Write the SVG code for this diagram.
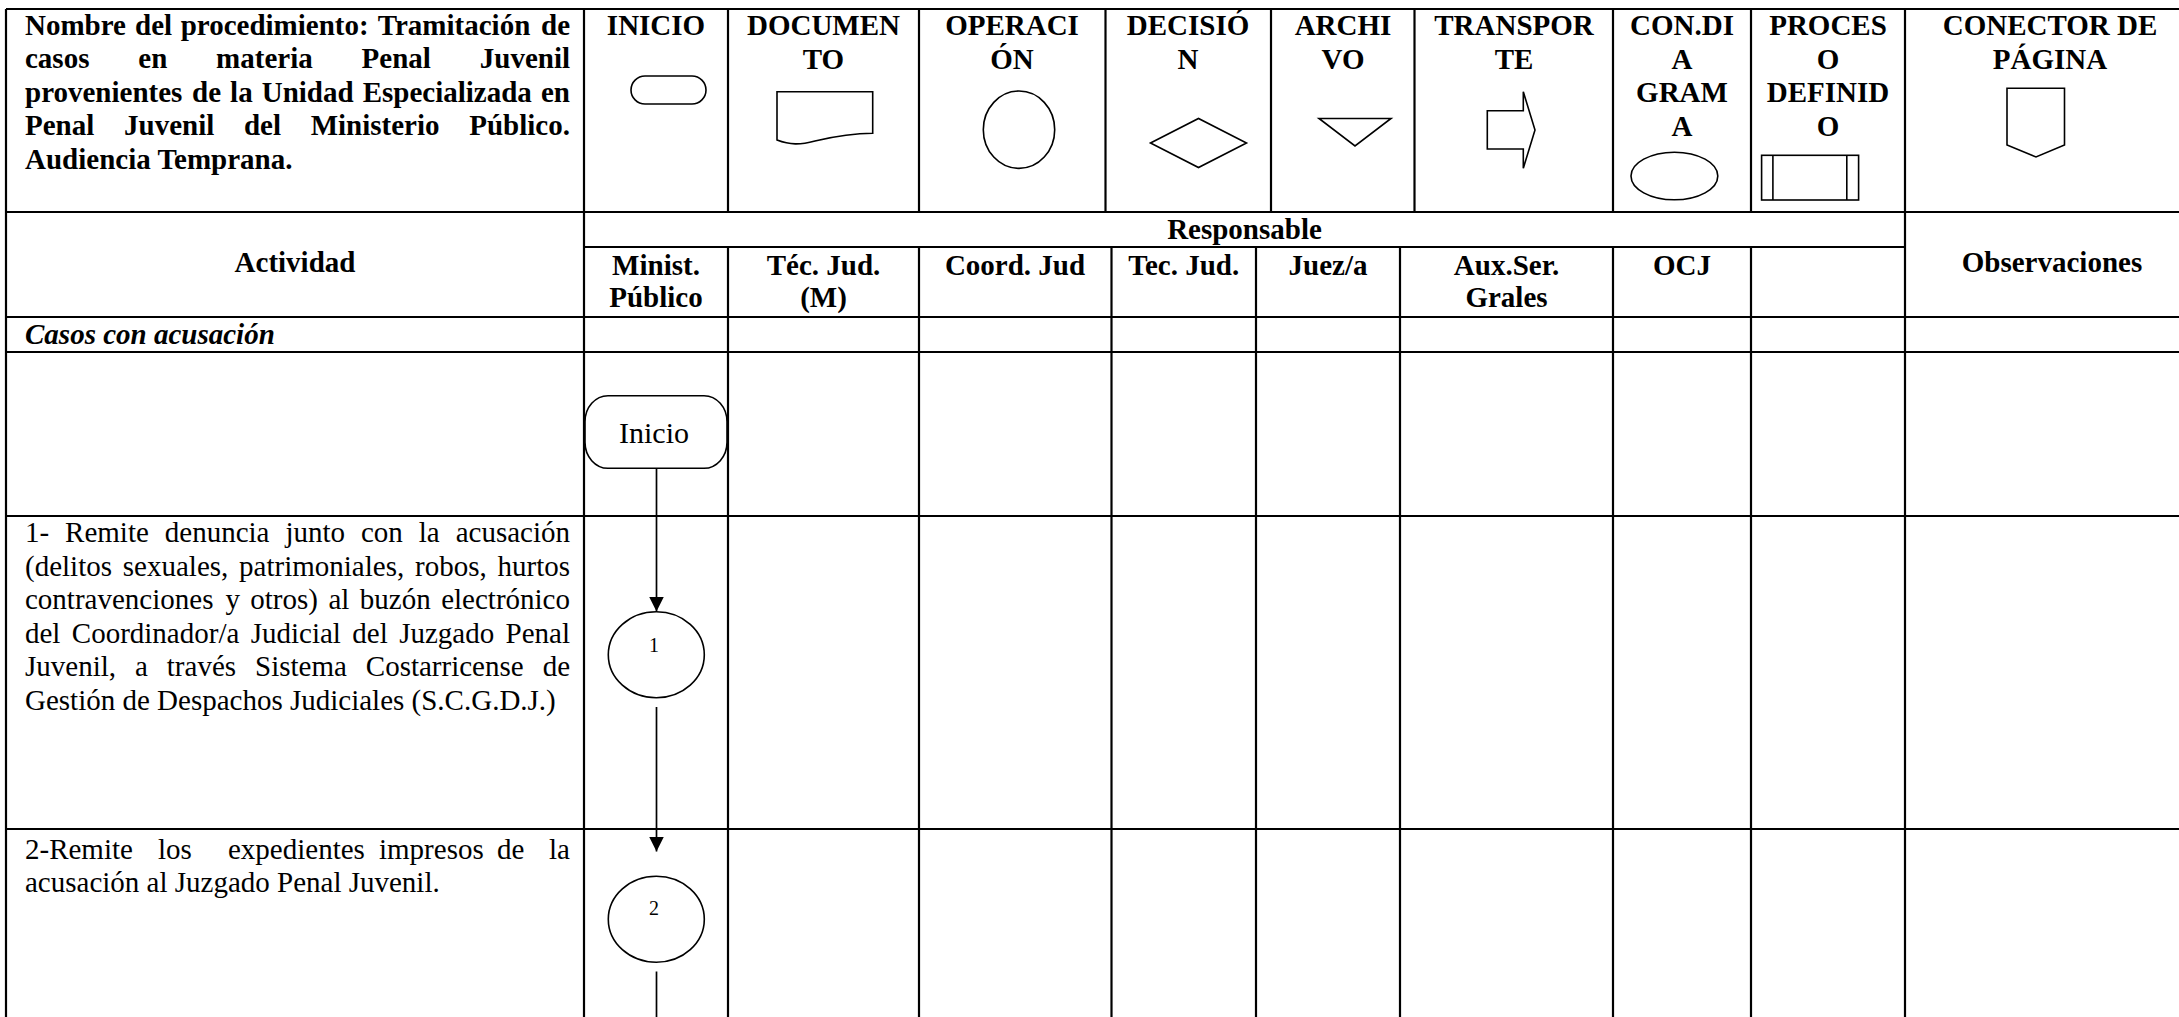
<svg xmlns="http://www.w3.org/2000/svg" width="2179" height="1017" viewBox="0 0 2179 1017">
<style>
  .grid line { stroke: #000; stroke-width: 2.2; }
  .sym { fill: #fff; stroke: #000; stroke-width: 1.6; }
  .t { font-family: "Liberation Serif", "Times New Roman", serif; font-size: 29px; fill: #000; }
  .b { font-weight: bold; }
  .i { font-style: italic; }
  .c { text-anchor: middle; }
  .conn { stroke: #000; stroke-width: 1.7; fill: none; }
  .small { font-size: 20px; }
</style>
<defs>
  <marker id="arrow" markerUnits="userSpaceOnUse" markerWidth="16" markerHeight="16" refX="15" refY="7.5" orient="auto">
    <path d="M0,0 L15,7.5 L0,15 Z" fill="#000"/>
  </marker>
</defs>
<rect x="0" y="0" width="2179" height="1017" fill="#fff"/>

<g id="table" class="grid">
  <!-- horizontal -->
  <line x1="6" y1="9" x2="2179" y2="9"/>
  <line x1="6" y1="212" x2="2179" y2="212"/>
  <line x1="584" y1="247" x2="1905" y2="247"/>
  <line x1="6" y1="317" x2="2179" y2="317"/>
  <line x1="6" y1="352" x2="2179" y2="352"/>
  <line x1="6" y1="516" x2="2179" y2="516"/>
  <line x1="6" y1="829" x2="2179" y2="829"/>
  <!-- vertical full height -->
  <line x1="6" y1="9" x2="6" y2="1017"/>
  <line x1="584" y1="9" x2="584" y2="1017"/>
  <line x1="1905" y1="9" x2="1905" y2="1017"/>
  <!-- header row verticals -->
  <line x1="728" y1="9" x2="728" y2="212"/>
  <line x1="919" y1="9" x2="919" y2="212"/>
  <line x1="1105.5" y1="9" x2="1105.5" y2="212"/>
  <line x1="1271" y1="9" x2="1271" y2="212"/>
  <line x1="1414.5" y1="9" x2="1414.5" y2="212"/>
  <line x1="1613" y1="9" x2="1613" y2="212"/>
  <line x1="1751" y1="9" x2="1751" y2="212"/>
  <!-- lower verticals -->
  <line x1="728" y1="247" x2="728" y2="1017"/>
  <line x1="919" y1="247" x2="919" y2="1017"/>
  <line x1="1111.5" y1="247" x2="1111.5" y2="1017"/>
  <line x1="1256" y1="247" x2="1256" y2="1017"/>
  <line x1="1400" y1="247" x2="1400" y2="1017"/>
  <line x1="1613" y1="247" x2="1613" y2="1017"/>
  <line x1="1751" y1="247" x2="1751" y2="1017"/>
</g>

<g id="title">
  <text class="t b"><tspan x="25" y="34.5">Nombre</tspan><tspan x="135" y="34.5">del</tspan><tspan x="180.7" y="34.5">procedimiento:</tspan><tspan x="377.8" y="34.5">Tramitación</tspan><tspan x="570" y="34.5" text-anchor="end">de</tspan></text>
  <text class="t b"><tspan x="25" y="68">casos</tspan><tspan x="138.3" y="68">en</tspan><tspan x="216.1" y="68">materia</tspan><tspan x="361.6" y="68">Penal</tspan><tspan x="570" y="68" text-anchor="end">Juvenil</tspan></text>
  <text class="t b"><tspan x="25" y="101.5">provenientes</tspan><tspan x="192" y="101.5">de</tspan><tspan x="230.1" y="101.5">la</tspan><tspan x="261.7" y="101.5">Unidad</tspan><tspan x="362.7" y="101.5">Especializada</tspan><tspan x="570" y="101.5" text-anchor="end">en</tspan></text>
  <text class="t b"><tspan x="25" y="135">Penal</tspan><tspan x="124" y="135">Juvenil</tspan><tspan x="243.9" y="135">del</tspan><tspan x="310.7" y="135">Ministerio</tspan><tspan x="570" y="135" text-anchor="end">Público.</tspan></text>
  <text class="t b" x="25" y="168.5">Audiencia Temprana.</text>
</g>

<g id="legend-inicio">
  <text class="t b c" x="656" y="35">INICIO</text>
  <rect class="sym" x="631" y="76" width="75" height="28" rx="14" ry="14"/>
</g>
<g id="legend-documento">
  <text class="t b c" x="823.5" y="35">DOCUMEN</text>
  <text class="t b c" x="823.5" y="68.5">TO</text>
  <path class="sym" d="M777,91.7 H872.7 V133.3 C850,133.3 830,137.5 815,141 C800,145 790,145 777,140 Z"/>
</g>
<g id="legend-operacion">
  <text class="t b c" x="1012" y="35">OPERACI</text>
  <text class="t b c" x="1012" y="68.5">ÓN</text>
  <ellipse class="sym" cx="1019" cy="129.7" rx="35.7" ry="38.7"/>
</g>
<g id="legend-decision">
  <text class="t b c" x="1188" y="35">DECISIÓ</text>
  <text class="t b c" x="1188" y="68.5">N</text>
  <polygon class="sym" points="1150.5,143 1198.5,118.5 1246.5,143 1198.5,167.5"/>
</g>
<g id="legend-archivo">
  <text class="t b c" x="1343" y="35">ARCHI</text>
  <text class="t b c" x="1343" y="68.5">VO</text>
  <polygon class="sym" points="1319,118.5 1391,118.5 1355,146"/>
</g>
<g id="legend-transporte">
  <text class="t b c" x="1514" y="35">TRANSPOR</text>
  <text class="t b c" x="1514" y="68.5">TE</text>
  <path class="sym" d="M1487.3,110.7 H1523.3 V91.7 L1535,130 L1523.3,168.3 V149 H1487.3 Z"/>
</g>
<g id="legend-condiagrama">
  <text class="t b c" x="1682" y="35">CON.DI</text>
  <text class="t b c" x="1682" y="68.5">A</text>
  <text class="t b c" x="1682" y="102">GRAM</text>
  <text class="t b c" x="1682" y="135.5">A</text>
  <ellipse class="sym" cx="1674.4" cy="176" rx="43.4" ry="23.8"/>
</g>
<g id="legend-proceso">
  <text class="t b c" x="1828" y="35">PROCES</text>
  <text class="t b c" x="1828" y="68.5">O</text>
  <text class="t b c" x="1828" y="102">DEFINID</text>
  <text class="t b c" x="1828" y="135.5">O</text>
  <rect class="sym" x="1761.6" y="155.3" width="97" height="44.7"/>
  <line class="sym" x1="1772.9" y1="155.3" x2="1772.9" y2="200"/>
  <line class="sym" x1="1846.8" y1="155.3" x2="1846.8" y2="200"/>
</g>
<g id="legend-conector">
  <text class="t b c" x="2050" y="35">CONECTOR DE</text>
  <text class="t b c" x="2050" y="68.5">PÁGINA</text>
  <path class="sym" d="M2007,88.3 H2064.5 V145 L2036,157 L2007,145 Z"/>
</g>

<g id="column-headers">
  <text class="t b c" x="295" y="272">Actividad</text>
  <text class="t b c" x="1244.5" y="239">Responsable</text>
  <text class="t b c" x="656" y="275">Minist.</text>
  <text class="t b c" x="656" y="306.5">Público</text>
  <text class="t b c" x="823.5" y="275">Téc. Jud.</text>
  <text class="t b c" x="823.5" y="306.5">(M)</text>
  <text class="t b c" x="1015" y="275">Coord. Jud</text>
  <text class="t b c" x="1183.7" y="275">Tec. Jud.</text>
  <text class="t b c" x="1328" y="275">Juez/a</text>
  <text class="t b c" x="1506.5" y="275">Aux.Ser.</text>
  <text class="t b c" x="1506.5" y="306.5">Grales</text>
  <text class="t b c" x="1682" y="275">OCJ</text>
  <text class="t b c" x="2052" y="272">Observaciones</text>
</g>

<g id="section-casos">
  <text class="t b i" x="25" y="344">Casos con acusación</text>
</g>

<g id="activity-1">
  <text class="t"><tspan x="25" y="542">1-</tspan><tspan x="65.1" y="542">Remite</tspan><tspan x="164.8" y="542">denuncia</tspan><tspan x="285.4" y="542">junto</tspan><tspan x="361" y="542">con</tspan><tspan x="418.8" y="542">la</tspan><tspan x="570" y="542" text-anchor="end">acusación</tspan></text>
  <text class="t"><tspan x="25" y="575.5">(delitos</tspan><tspan x="122.8" y="575.5">sexuales,</tspan><tspan x="239.1" y="575.5">patrimoniales,</tspan><tspan x="415" y="575.5">robos,</tspan><tspan x="570" y="575.5" text-anchor="end">hurtos</tspan></text>
  <text class="t"><tspan x="25" y="609">contravenciones</tspan><tspan x="225.4" y="609">y</tspan><tspan x="250.3" y="609">otros)</tspan><tspan x="328.4" y="609">al</tspan><tspan x="359.8" y="609">buzón</tspan><tspan x="570" y="609" text-anchor="end">electrónico</tspan></text>
  <text class="t"><tspan x="25" y="642.5">del</tspan><tspan x="71.8" y="642.5">Coordinador/a</tspan><tspan x="250.7" y="642.5">Judicial</tspan><tspan x="352.3" y="642.5">del</tspan><tspan x="399.2" y="642.5">Juzgado</tspan><tspan x="570" y="642.5" text-anchor="end">Penal</tspan></text>
  <text class="t"><tspan x="25" y="676">Juvenil,</tspan><tspan x="135" y="676">a</tspan><tspan x="166.8" y="676">través</tspan><tspan x="255" y="676">Sistema</tspan><tspan x="365.8" y="676">Costarricense</tspan><tspan x="570" y="676" text-anchor="end">de</tspan></text>
  <text class="t" x="25" y="709.5">Gestión de Despachos Judiciales (S.C.G.D.J.)</text>
</g>

<g id="activity-2">
  <text class="t"><tspan x="25" y="858.5">2-Remite</tspan><tspan x="158" y="858.5">los</tspan><tspan x="228" y="858.5">expedientes</tspan><tspan x="379" y="858.5">impresos</tspan><tspan x="497" y="858.5">de</tspan><tspan x="570" y="858.5" text-anchor="end">la</tspan></text>
  <text class="t" x="25" y="892">acusación al Juzgado Penal Juvenil.</text>
</g>

<g id="node-inicio">
  <rect class="sym" x="585" y="395.7" width="142" height="72.6" rx="23" ry="26"/>
  <text class="t c" x="654" y="442.7" style="font-size:30px">Inicio</text>
</g>
<g id="node-1">
  <ellipse class="sym" cx="656.3" cy="654.7" rx="48" ry="43"/>
  <text class="t c small" x="654" y="651.5">1</text>
</g>
<g id="node-2">
  <ellipse class="sym" cx="656.3" cy="919.2" rx="48" ry="43"/>
  <text class="t c small" x="654" y="915">2</text>
</g>

<g id="connectors">
  <line class="conn" x1="656.5" y1="468.3" x2="656.5" y2="611.5" marker-end="url(#arrow)"/>
  <line class="conn" x1="656.5" y1="707" x2="656.5" y2="851.5" marker-end="url(#arrow)"/>
  <line class="conn" x1="656.5" y1="971.5" x2="656.5" y2="1017"/>
</g>
</svg>
